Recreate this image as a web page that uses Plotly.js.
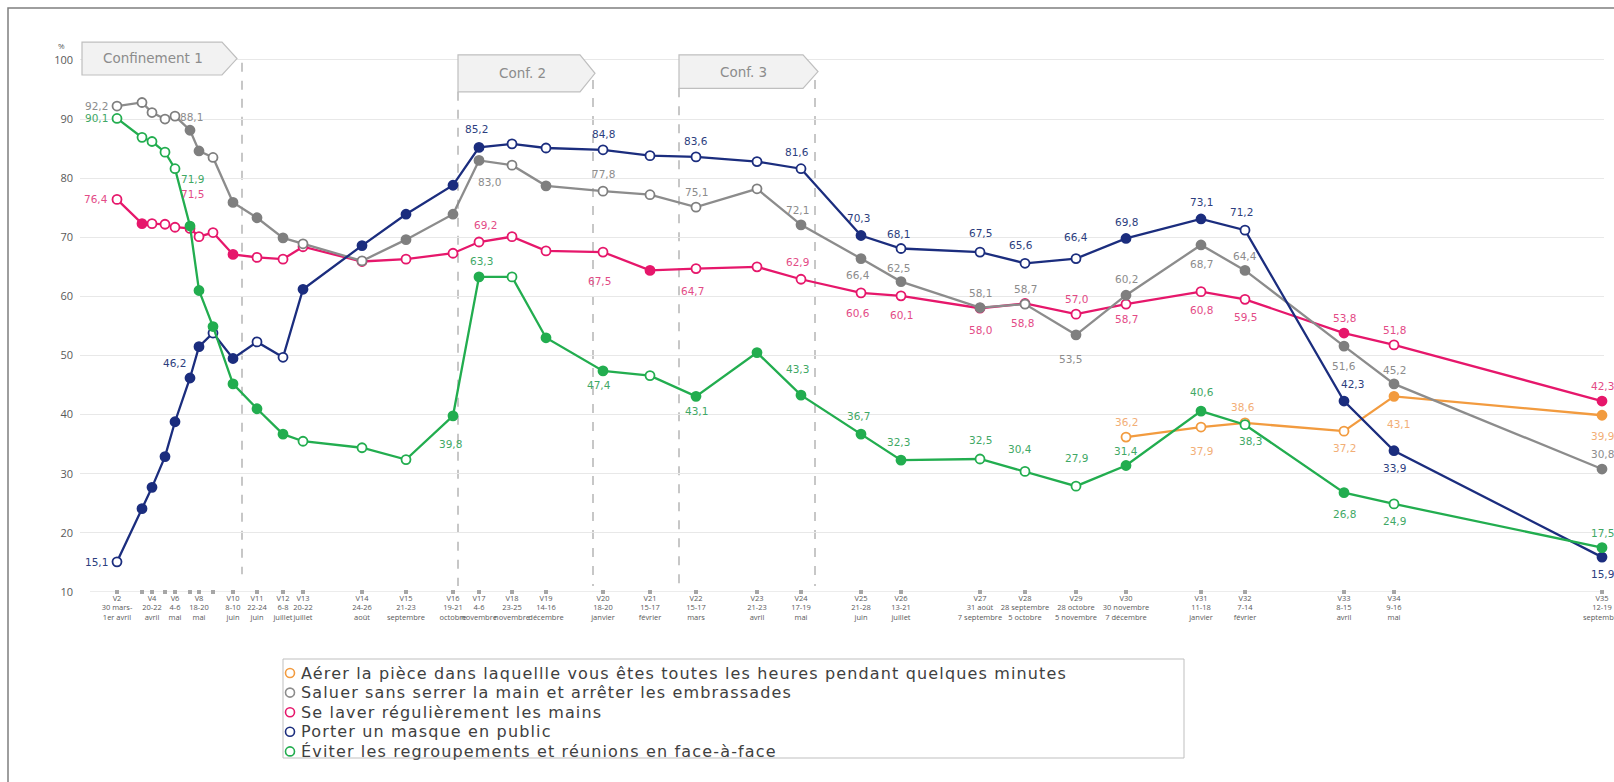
<!DOCTYPE html>
<html><head><meta charset="utf-8">
<script src="https://cdn.plot.ly/plotly-3.0.1.min.js"></script>
<style>html,body{margin:0;padding:0;background:#fff}#chart{width:1614px;height:782px}</style>
</head><body><div id="chart"></div>
<script>
// ---- DATA ----
const waves = ['V2','V3','V4','V5','V6','V7','V8','V9','V10','V11','V12','V13','V14','V15','V16','V17','V18','V19','V20','V21','V22','V23','V24','V25','V26','V27','V28','V29','V30','V31','V32','V33','V34','V35'];
// position of each wave along the (irregular) time axis
const wavePos = [117,142,152,165,175,190,199,213,233,257,283,303,362,406,453,479,512,546,603,650,696,757,801,861,901,980,1025,1076,1126,1201,1245,1344,1394,1602];
const waveTickText = [
 'V2<br>30 mars-<br>1er avril','','V4<br>20-22<br>avril','','V6<br>4-6<br>mai','','V8<br>18-20<br>mai','',
 'V10<br>8-10<br>juin','V11<br>22-24<br>juin','V12<br>6-8<br>juillet','V13<br>20-22<br>juillet',
 'V14<br>24-26<br>août','V15<br>21-23<br>septembre','V16<br>19-21<br>octobre','V17<br>4-6<br>novembre',
 'V18<br>23-25<br>novembre','V19<br>14-16<br>décembre','V20<br>18-20<br>janvier','V21<br>15-17<br>février',
 'V22<br>15-17<br>mars','V23<br>21-23<br>avril','V24<br>17-19<br>mai','V25<br>21-28<br>juin','V26<br>13-21<br>juillet',
 'V27<br>31 août<br>7 septembre','V28<br>28 septembre<br>5 octobre','V29<br>28 octobre<br>5 novembre','V30<br>30 novembre<br>7 décembre',
 'V31<br>11-18<br>janvier','V32<br>7-14<br>février','V33<br>8-15<br>avril','V34<br>9-16<br>mai','V35<br>12-19<br>septembre'];
const yTicks = [10,20,30,40,50,60,70,80,90,100];

const N = null;
const aerer     = [N,N,N,N,N,N,N,N,N,N,N,N,N,N,N,N,N,N,N,N,N,N,N,N,N,N,N,N,36.2,37.9,38.6,37.2,43.1,39.9];
const aererSig  = [0,0,0,0,0,0,0,0,0,0,0,0,0,0,0,0,0,0,0,0,0,0,0,0,0,0,0,0,0,0,0,0,1,1];
const saluer    = [92.2,92.8,91.1,90.0,90.5,88.1,84.6,83.5,75.9,73.3,69.9,68.9,66.0,69.6,73.9,83.0,82.2,78.7,77.8,77.2,75.1,78.2,72.1,66.4,62.5,58.1,58.7,53.5,60.2,68.7,64.4,51.6,45.2,30.8];
const saluerSig = [0,0,0,0,0,1,1,0,1,1,1,0,0,1,1,1,0,1,0,0,0,0,1,1,1,1,0,1,1,1,1,1,1,1];
const laver     = [76.4,72.3,72.3,72.2,71.7,71.5,70.1,70.8,67.1,66.6,66.3,68.4,65.9,66.3,67.3,69.2,70.1,67.7,67.5,64.4,64.7,65.0,62.9,60.6,60.1,58.0,58.8,57.0,58.7,60.8,59.5,53.8,51.8,42.3];
const laverSig  = [0,1,0,0,0,0,0,0,1,0,0,0,0,0,0,0,0,0,0,1,0,0,0,0,0,0,0,0,0,0,0,1,0,1];
const masque    = [15.1,24.1,27.7,32.9,38.8,46.2,51.5,53.8,49.5,52.3,49.7,61.2,68.6,73.9,78.8,85.2,85.8,85.1,84.8,83.8,83.6,82.8,81.6,70.3,68.1,67.5,65.6,66.4,69.8,73.1,71.2,42.3,33.9,15.9];
const masqueSig = [0,1,1,1,1,1,1,0,1,0,0,1,1,1,1,1,0,0,0,0,0,0,0,1,0,0,0,0,1,1,0,1,1,1];
const eviter    = [90.1,86.9,86.2,84.4,81.6,71.9,61.0,54.9,45.2,41.0,36.7,35.5,34.4,32.4,39.8,63.3,63.3,53.0,47.4,46.6,43.1,50.5,43.3,36.7,32.3,32.5,30.4,27.9,31.4,40.6,38.3,26.8,24.9,17.5];
const eviterSig = [0,0,0,0,0,1,1,1,1,1,1,0,0,0,1,1,0,1,1,0,1,1,1,1,1,0,0,0,1,1,0,1,0,1];

const seriesNames = [
 'Aérer la pièce dans laquellle vous êtes toutes les heures pendant quelques minutes',
 'Saluer sans serrer la main et arrêter les embrassades',
 'Se laver régulièrement les mains',
 'Porter un masque en public',
 'Éviter les regroupements et réunions en face-à-face'];

// ---- STYLE ----
const W = 1614, H = 782, ML = 80, MR = 10, MT = 41, MB = 190;
const PW = W - ML - MR, PH = H - MT - MB;
const px2x = p => (p - ML) / PW;
const py2y = p => (H - MB - p) / PH;
const FONT = 'Open Sans, Lato, sans-serif';
const WIDE = 'DejaVu Sans, Verdana, sans-serif';

const styles = {
  aerer:  {line:'#f29b3f', fill:'#f29b3f', text:'#f2ae76'},
  saluer: {line:'#8c8c8c', fill:'#7f7f7f', text:'#8c8c8c'},
  laver:  {line:'#e6176b', fill:'#e6176b', text:'#e34b86'},
  masque: {line:'#1b2d7e', fill:'#1b2d7e', text:'#2c3e7e'},
  eviter: {line:'#22ad4f', fill:'#22ad4f', text:'#3fa865'}
};
// label placement [dx, dyUp] in px, per wave
const labelPlace = {
  aerer:  {V30:[0,15],V31:[0,-24],V32:[-2,16],V33:[0,-17],V34:[4,-28],V35:[0,-21]},
  saluer: {V2:[-21,0],V7:[1,13],V17:[10,-22],V20:[0,17],V22:[0,15],V24:[-4,15],V25:[-3,-16],V26:[-3,14],V27:[0,15],V28:[0,15],V29:[-6,-24],V30:[0,16],V31:[0,-19],V32:[0,14],V33:[0,-20],V34:[0,14],V35:[0,15]},
  laver:  {V2:[-21,0],V7:[2,34],V17:[6,17],V20:[-4,-29],V22:[-4,-22],V24:[-4,17],V25:[-3,-20],V26:[0,-19],V27:[0,-22],V28:[-3,-20],V29:[0,15],V30:[0,-15],V31:[0,-18],V32:[0,-18],V33:[0,15],V34:[0,15],V35:[0,15]},
  masque: {V2:[-21,0],V7:[-16,15],V17:[-3,18],V20:[0,16],V22:[0,16],V24:[-4,17],V25:[-3,18],V26:[-3,15],V27:[0,19],V28:[-4,18],V29:[0,22],V30:[0,16],V31:[0,17],V32:[-4,18],V33:[8,17],V34:[0,-17],V35:[0,-17]},
  eviter: {V2:[-21,0],V7:[2,47],V16:[-3,-28],V17:[2,16],V20:[-4,-14],V22:[0,-15],V24:[-4,26],V25:[-3,18],V26:[-3,18],V27:[0,19],V28:[-5,22],V29:[0,28],V30:[0,14],V31:[1,19],V32:[5,-16],V33:[0,-21],V34:[0,-17],V35:[0,15]}
};

const series = [
  {key:'aerer', vals:aerer, sig:aererSig, name:seriesNames[0]},
  {key:'saluer', vals:saluer, sig:saluerSig, name:seriesNames[1]},
  {key:'laver', vals:laver, sig:laverSig, name:seriesNames[2]},
  {key:'masque', vals:masque, sig:masqueSig, name:seriesNames[3]},
  {key:'eviter', vals:eviter, sig:eviterSig, name:seriesNames[4]}
];
const drawOrder = ['aerer','laver','saluer','masque','eviter'];
const fmt = v => v.toFixed(1).replace('.', ',');

const traces = [];
// axis dots
traces.push({x:wavePos, y:wavePos.map(() => yTicks[0]), type:'scatter', mode:'markers', showlegend:false,
  marker:{symbol:'square', size:4, color:'#a6a6a6'}, cliponaxis:false, hoverinfo:'skip'});
drawOrder.forEach(k => {
  const s = series.find(q => q.key === k), st = styles[k];
  traces.push({x:wavePos, y:s.vals, type:'scatter', mode:'lines+markers', name:s.name, showlegend:false, cliponaxis:false,
    line:{color:st.line, width:2.3}, hoverinfo:'skip',
    marker:{symbol:'circle', size:9, color:s.sig.map(v => v ? st.fill : '#ffffff'), line:{color:st.fill, width:1.8}}});
});

const annotations = [];
series.forEach(s => {
  const st = styles[s.key], place = labelPlace[s.key];
  Object.keys(place).forEach(w => {
    const i = waves.indexOf(w);
    annotations.push({x:wavePos[i], y:s.vals[i], xref:'x', yref:'y', text:fmt(s.vals[i]), showarrow:false,
      xshift:place[w][0], yshift:place[w][1], font:{family:WIDE, size:10.5, color:st.text}});
  });
});
// lockdown boxes
const confs = [
  {text:'Confinement 1', x0:82, xb:222, xt:237, top:103.0, bot:97.45, tx:153, ty:100.3},
  {text:'Conf. 2', x0:458, xb:580, xt:595, top:100.85, bot:94.6, tx:522, ty:97.75},
  {text:'Conf. 3', x0:679, xb:803, xt:818, top:100.85, bot:95.2, tx:743, ty:98.0}
];
const shapes = [];
confs.forEach(c => {
  const mid = (c.top + c.bot) / 2;
  shapes.push({type:'path', xref:'x', yref:'y', path:`M${c.x0},${c.top} L${c.xb},${c.top} L${c.xt},${mid} L${c.xb},${c.bot} L${c.x0},${c.bot} Z`,
    fillcolor:'#f2f2f2', line:{color:'#bfbfbf', width:1.2}, layer:'above'});
  annotations.push({x:c.tx, y:c.ty, xref:'x', yref:'y', text:c.text, showarrow:false, font:{family:WIDE, size:13.5, color:'#8c8c8c'}});
});
const dashes = [[242,99.5,13],[458,94.6,11],[593,96.6,11],[679,95.2,11],[815,96.6,11]];
dashes.forEach(d => shapes.push({type:'line', xref:'x', yref:'y', x0:d[0], x1:d[0], y0:d[1], y1:d[2],
  line:{color:'#9a9a9a', width:1.1, dash:'dash'}, layer:'below'}));
// outer frame
shapes.push({type:'rect', xref:'paper', yref:'paper', x0:px2x(8), x1:px2x(1625), y0:py2y(8), y1:py2y(800), line:{color:'#7f7f7f', width:1.5}, fillcolor:'rgba(0,0,0,0)'});
// hand-built legend
const LG = {x0:283, x1:1184, y0:659, y1:758, row0:673, step:19.6, sym:290, txt:299};
shapes.push({type:'rect', xref:'paper', yref:'paper', x0:px2x(LG.x0), x1:px2x(LG.x1), y0:py2y(LG.y0), y1:py2y(LG.y1), line:{color:'#bfbfbf', width:1}, fillcolor:'rgba(0,0,0,0)'});
series.forEach((s, i) => {
  const cy = LG.row0 + LG.step * i, st = styles[s.key];
  shapes.push({type:'circle', xref:'paper', yref:'paper', x0:px2x(LG.sym - 4.5), x1:px2x(LG.sym + 4.5), y0:py2y(cy + 4.5), y1:py2y(cy - 4.5),
    line:{color:st.line, width:1.6}, fillcolor:'#ffffff'});
  annotations.push({x:px2x(LG.txt), y:py2y(cy), xref:'paper', yref:'paper', xanchor:'left', yanchor:'middle', showarrow:false,
    text:`<span style="letter-spacing:1.15px">${s.name}</span>`, font:{family:WIDE, size:16, color:'#404040'}});
});
annotations.push({x:px2x(56), y:py2y(38), xref:'paper', yref:'paper', text:'%', showarrow:false, font:{family:FONT, size:8, color:'#595959'}});

const layout = {
  width:W, height:H, margin:{l:ML, r:MR, t:MT, b:MB}, paper_bgcolor:'#fff', plot_bgcolor:'#fff',
  font:{family:FONT, color:'#595959'}, showlegend:false,
  xaxis:{range:[ML, W - MR], tickvals:wavePos, ticktext:waveTickText, tickfont:{size:7.5, color:'#595959'},
    showgrid:false, zeroline:false, showline:false, ticks:'', tickangle:0, ticklabeloverflow:'allow', fixedrange:true},
  yaxis:{range:[10, 103.2], tickvals:yTicks, tickfont:{size:11, color:'#595959'}, showgrid:true, gridcolor:'#e8e8e8',
    gridwidth:1, zeroline:false, showline:false, ticks:'', ticklabelstandoff:6, fixedrange:true},
  shapes, annotations
};
// x axis baseline
layout.shapes.push({type:'line', xref:'paper', yref:'y', x0:px2x(90), x1:1, y0:10, y1:10, line:{color:'#d9d9d9', width:1}, layer:'below'});
Plotly.newPlot('chart', traces, layout, {displayModeBar:false, staticPlot:true});
</script></body></html>
